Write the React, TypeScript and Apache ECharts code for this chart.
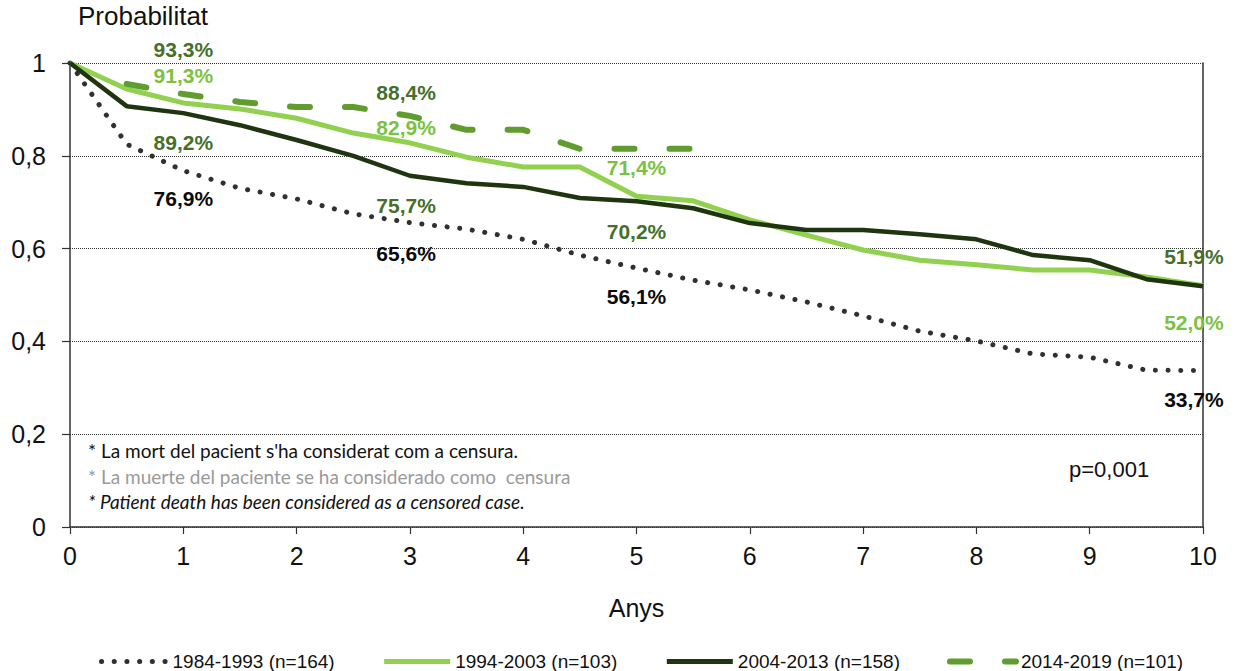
import React, { useEffect, useRef } from "react";
import * as echarts from "echarts";

const years = [0, 0.5, 1, 1.5, 2, 2.5, 3, 3.5, 4, 4.5, 5, 5.5, 6, 6.5, 7, 7.5, 8, 8.5, 9, 9.5, 10];
const s1984 = [1, 0.825, 0.768, 0.73, 0.707, 0.675, 0.656, 0.642, 0.62, 0.586, 0.558, 0.532, 0.511, 0.485, 0.455, 0.422, 0.401, 0.373, 0.366, 0.338, 0.337];
const s1994 = [1, 0.944, 0.914, 0.901, 0.881, 0.849, 0.828, 0.797, 0.776, 0.776, 0.713, 0.703, 0.662, 0.629, 0.597, 0.575, 0.565, 0.554, 0.554, 0.539, 0.52];
const s2004 = [1, 0.907, 0.892, 0.866, 0.834, 0.8, 0.757, 0.741, 0.733, 0.709, 0.702, 0.687, 0.655, 0.64, 0.64, 0.631, 0.62, 0.586, 0.575, 0.534, 0.519];
const years2014 = [0.5, 1, 1.5, 2, 2.5, 3, 3.5, 4, 4.5, 5, 5.5];
const s2014 = [0.955, 0.933, 0.916, 0.905, 0.905, 0.886, 0.856, 0.856, 0.815, 0.815, 0.815];

const seriesNames = ["1984-1993 (n=164)", "1994-2003 (n=103)", "2004-2013 (n=158)", "2014-2019 (n=101)"];

// annotation labels: [x, y, text, group]
const annotations: [number, number, string, string][] = [
  [1, 1.03, "93,3%", "olive"],
  [1, 0.972, "91,3%", "light"],
  [1, 0.828, "89,2%", "olive"],
  [1, 0.709, "76,9%", "black"],
  [2.966, 0.9375, "88,4%", "olive"],
  [2.966, 0.862, "82,9%", "light"],
  [2.966, 0.692, "75,7%", "olive"],
  [2.966, 0.59, "65,6%", "black"],
  [5.0, 0.774, "71,4%", "light"],
  [5.0, 0.636, "70,2%", "olive"],
  [5.0, 0.496, "56,1%", "black"],
  [9.92, 0.582, "51,9%", "olive"],
  [9.92, 0.44, "52,0%", "light"],
  [9.92, 0.274, "33,7%", "black"],
];

const notes = [
  "* La mort del pacient s'ha considerat com a censura.",
  "* La muerte del paciente se ha considerado como  censura",
  "* Patient death has been considered as a censored case.",
];

const labelColors: Record<string, string> = { olive: "#46702a", light: "#7cc142", black: "#0a0a0a" };

export default function App() {
  const ref = useRef<HTMLDivElement>(null);
  useEffect(() => {
    if (!ref.current) return;
    const chart = echarts.init(ref.current, null, { renderer: "svg" });
    const font = "'Liberation Sans', Arial, sans-serif";
    const pair = (xs: number[], ys: number[]) => xs.map((x, i) => [x, ys[i]]);
    const legendWidths = [5, 5, 5, 6];
    chart.setOption({
      animation: false,
      grid: { left: 70, right: 32, top: 63, bottom: 144 },
      legend: {
        left: 94,
        top: 647,
        itemWidth: 66,
        itemHeight: 20,
        itemGap: 47,
        itemStyle: { opacity: 0 },
        textStyle: { fontFamily: font, fontSize: 19, color: "#111" },
        data: seriesNames.map((n, i) => ({ name: n, lineStyle: { width: legendWidths[i] } })),
      },
      xAxis: {
        type: "value",
        min: 0,
        max: 10,
        interval: 1,
        name: "Anys",
        nameLocation: "middle",
        nameGap: 68,
        nameTextStyle: { fontFamily: font, fontSize: 25, color: "#111" },
        axisLine: { show: true, onZero: false, lineStyle: { color: "#333", width: 1.5 } },
        axisTick: { show: true, length: 7, lineStyle: { color: "#333", width: 1.2 } },
        axisLabel: { fontFamily: font, fontSize: 25, color: "#111", margin: 16 },
        splitLine: { show: false },
      },
      yAxis: [
        {
          type: "value",
          min: 0,
          max: 1,
          interval: 0.2,
          axisLine: { show: true, lineStyle: { color: "#333", width: 1.5 } },
          axisTick: { show: true, length: 8, lineStyle: { color: "#333", width: 1.2 } },
          axisLabel: {
            fontFamily: font,
            fontSize: 25,
            color: "#111",
            margin: 24,
            formatter: (v: number) => String(Math.round(v * 10) / 10).replace(".", ","),
          },
          splitLine: { show: true, lineStyle: { color: "#333", width: 1, type: [1, 1] } },
        },
        {
          type: "value",
          min: 0,
          max: 1,
          interval: 0.2,
          position: "right",
          axisLine: { show: true, lineStyle: { color: "#333", width: 1.5 } },
          axisTick: { show: false },
          axisLabel: { show: false },
          splitLine: { show: false },
        },
      ],
      graphic: [
        {
          type: "text",
          left: 78,
          top: 3,
          style: { text: "Probabilitat", fontFamily: font, fontSize: 26, fill: "#111" },
        },
        ...notes.map((t, i) => ({
          type: "text",
          left: 88,
          top: 441 + i * 25.5,
          style: {
            text: t,
            fontFamily: "Lato, 'Open Sans', sans-serif",
            fontSize: 19,
            fontStyle: i === 2 ? "italic" : "normal",
            fill: i === 1 ? "#9a9a9a" : "#111",
          },
        })),
        {
          type: "text",
          left: 1069,
          top: 458,
          style: { text: "p=0,001", fontFamily: font, fontSize: 22, fill: "#111" },
        },
      ],
      series: [
        {
          name: seriesNames[0],
          type: "line",
          data: pair(years, s1984),
          showSymbol: false,
          symbol: "none",
          color: "#303030",
          lineStyle: { color: "#303030", width: 5, type: [0.1, 12.6], cap: "round" },
        },
        {
          name: seriesNames[1],
          type: "line",
          data: pair(years, s1994),
          showSymbol: false,
          symbol: "none",
          color: "#92d050",
          lineStyle: { color: "#92d050", width: 5 },
        },
        {
          name: seriesNames[2],
          type: "line",
          data: pair(years, s2004),
          showSymbol: false,
          symbol: "none",
          color: "#1e3510",
          lineStyle: { color: "#1e3510", width: 4.5 },
        },
        {
          name: seriesNames[3],
          type: "line",
          data: pair(years2014, s2014),
          showSymbol: false,
          symbol: "none",
          color: "#609c2e",
          lineStyle: { color: "#609c2e", width: 6, type: [20, 35], cap: "round" },
        },
        {
          name: "labels",
          type: "scatter",
          symbolSize: 0,
          silent: true,
          clip: false,
          z: 5,
          itemStyle: { opacity: 1 },
          data: annotations.map(([x, y, t, g]) => ({
            value: [x, y],
            label: {
              show: true,
              position: "inside",
              formatter: t,
              color: labelColors[g],
              opacity: 1,
              fontFamily: font,
              fontWeight: "bold",
              fontSize: 21,
            },
          })),
        },
      ],
    });
    return () => chart.dispose();
  }, []);
  return <div ref={ref} style={{ position: "absolute", left: 0, top: 0, width: 1235, height: 671 }} />;
}
